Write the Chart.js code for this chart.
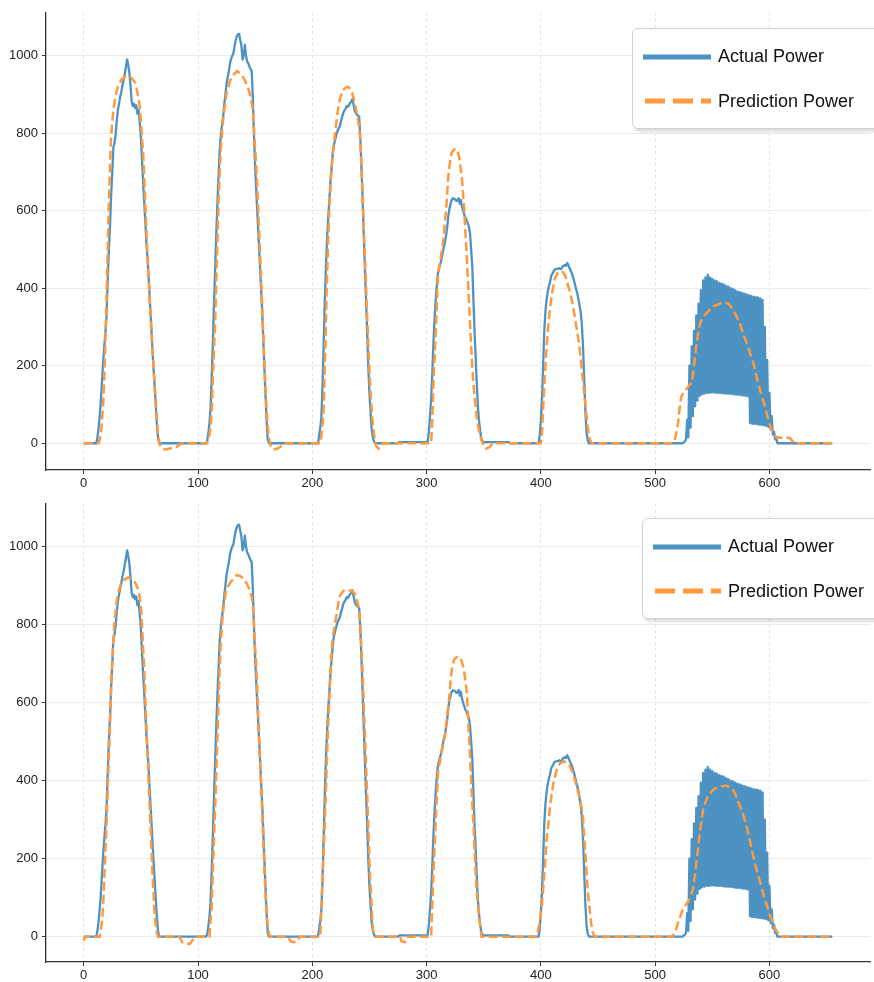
<!DOCTYPE html>
<html><head><meta charset="utf-8">
<script src="https://cdn.jsdelivr.net/npm/chart.js@4.4.1/dist/chart.umd.min.js"></script>
<style>
html,body{margin:0;padding:0;background:#fff;overflow:hidden;width:874px;height:982px;}
#wrap{position:relative;width:874px;height:982px;overflow:hidden;}
canvas{position:absolute;left:0;}
#c1{top:0;}
#c2{top:490px;}
.legend{position:absolute;width:262px;height:99px;border:1.5px solid #d2d2d2;border-radius:6px;background:#fff;box-shadow:2px 3px 3px rgba(0,0,0,0.13);font-family:"Liberation Sans",Arial,Helvetica,sans-serif;font-size:18px;color:#111;}
.legend svg{position:absolute;left:10px;}
.legend span{position:absolute;left:85px;line-height:22px;white-space:nowrap;}
</style>
</head><body>
<div id="wrap">
<canvas id="c1" width="874" height="490"></canvas>
<canvas id="c2" width="874" height="492"></canvas>
<div class="legend" style="left:632px;top:28px;">
  <svg width="70" height="10" style="top:23px"><line x1="0" y1="5" x2="68" y2="5" stroke="#4c92c3" stroke-width="5"/></svg>
  <span style="top:16px">Actual Power</span>
  <svg width="70" height="10" style="top:67px"><line x1="2" y1="5" x2="68" y2="5" stroke="#ff993e" stroke-width="5" stroke-dasharray="20 8"/></svg>
  <span style="top:61px">Prediction Power</span>
</div>
<div class="legend" style="left:642px;top:518px;">
  <svg width="70" height="10" style="top:23px"><line x1="0" y1="5" x2="68" y2="5" stroke="#4c92c3" stroke-width="5"/></svg>
  <span style="top:16px">Actual Power</span>
  <svg width="70" height="10" style="top:67px"><line x1="2" y1="5" x2="68" y2="5" stroke="#ff993e" stroke-width="5" stroke-dasharray="20 8"/></svg>
  <span style="top:61px">Prediction Power</span>
</div>
</div>
<script>
// ---- data: [time index, power] ----
const xTicks = [0, 100, 200, 300, 400, 500, 600];
const yTicks = [0, 200, 400, 600, 800, 1000];
const seriesNames = ["Actual Power", "Prediction Power"];

const actualPower = [
[0,0],[11,0],[12,15],[13,40],[14,70],[15,110],[16,160],[17,210],[18,250],[19,285],[20,330],[21,420],[22,500],[23,560],[24,640],[25,700],[26,765],[27,775],[28,800],[29,835],[30,861],[31,878],[32,895],[33,908],[34,925],[35,938],[36,955],[37,972],[38,990],[39,975],[40,955],[41,920],[42,880],[43,870],[44,876],[45,865],[46,872],[47,850],[48,860],[49,830],[50,790],[51,730],[52,672],[53,620],[54,565],[55,510],[56,470],[57,420],[58,360],[59,310],[60,250],[61,198],[62,150],[63,100],[64,50],[65,15],[66,0],
[107,0],[108,5],[109,25],[110,50],[111,90],[112,170],[113,260],[114,360],[115,450],[116,540],[117,620],[118,690],[119,757],[120,795],[121,820],[122,843],[123,875],[124,900],[125,928],[126,945],[127,960],[128,980],[129,992],[130,1000],[131,1006],[132,1025],[133,1040],[134,1050],[135,1055],[136,1056],[137,1040],[138,1025],[139,990],[140,1000],[141,1028],[142,1000],[143,985],[144,980],[145,972],[146,965],[147,960],[148,890],[149,790],[150,714],[151,650],[152,590],[153,530],[154,470],[155,410],[156,350],[157,280],[158,200],[159,130],[160,60],[161,10],[162,0],
[205,0],[206,20],[207,40],[208,70],[209,150],[210,260],[211,370],[212,460],[213,530],[214,585],[215,630],[216,680],[217,714],[218,750],[219,770],[220,783],[221,795],[222,805],[223,812],[224,817],[225,830],[226,840],[227,852],[228,858],[229,862],[230,870],[231,868],[232,872],[233,878],[234,880],[235,888],[236,875],[237,860],[238,852],[239,848],[240,845],[241,843],[242,790],[243,714],[244,630],[245,540],[246,456],[247,370],[248,290],[249,198],[250,130],[251,80],[252,35],[253,15],[254,5],[255,0],
[275,0],[276,3],[300,3],[301,5],[302,30],[303,70],[304,113],[305,180],[306,260],[307,320],[308,370],[309,410],[310,440],[311,452],[312,462],[313,474],[314,490],[315,505],[316,517],[317,535],[318,555],[319,585],[320,605],[321,618],[322,628],[323,632],[324,630],[325,630],[326,625],[327,626],[328,632],[329,618],[330,628],[331,610],[332,600],[333,590],[334,582],[335,575],[336,568],[337,560],[338,542],[339,500],[340,456],[341,370],[342,285],[343,220],[344,150],[345,90],[346,55],[347,30],[348,10],[349,5],[350,3],[372,3],[373,0],
[398,0],[399,20],[400,60],[401,113],[402,200],[403,290],[404,340],[405,370],[406,390],[407,405],[408,415],[409,431],[410,437],[411,442],[412,448],[413,449],[414,450],[415,450],[416,452],[417,450],[418,450],[419,456],[420,458],[421,460],[422,458],[423,465],[424,460],[425,452],[426,446],[427,440],[428,430],[429,420],[430,408],[431,396],[432,385],[433,370],[434,353],[435,335],[436,300],[437,242],[438,160],[439,80],[440,27],[441,8],[442,0],
[524,0],[526,5],[527,10],[528,60],[529,15],[530,200],[531,40],[532,250],[533,70],[534,290],[535,95],[536,330],[537,110],[538,360],[539,122],[540,395],[541,126],[542,420],[543,128],[544,428],[545,130],[546,435],[547,130],[548,428],[549,131],[550,424],[551,131],[552,420],[553,130],[554,418],[555,130],[556,414],[557,130],[558,412],[559,129],[560,410],[561,128],[562,406],[563,128],[564,404],[565,127],[566,400],[567,127],[568,398],[569,126],[570,395],[571,125],[572,392],[573,125],[574,390],[575,124],[576,388],[577,123],[578,386],[579,122],[580,384],[581,121],[582,382],[583,52],[584,380],[585,50],[586,378],[587,50],[588,377],[589,49],[590,376],[591,48],[592,374],[593,47],[594,370],[595,46],[596,300],[597,45],[598,215],[599,42],[600,130],[601,35],[602,70],[603,22],[604,30],[605,10],[606,12],[607,0],[655,0]
];

const predictionTop = [
[0,0],[13,0],[14,10],[15,25],[16,55],[17,100],[18,170],[19,270],[20,380],[21,500],[22,620],[23,720],[24,790],[25,830],[26,860],[27,880],[28,898],[30,920],[33,938],[36,945],[39,948],[42,942],[45,930],[47,905],[49,870],[50,830],[51,790],[52,750],[53,680],[54,610],[55,540],[56,475],[57,410],[58,355],[59,300],[60,250],[61,200],[62,150],[63,110],[64,60],[65,25],[66,5],[67,-8],[69,-15],[72,-16],[76,-13],[81,-10],[84,-3],[86,0],
[108,0],[110,20],[111,45],[112,80],[113,170],[114,240],[115,310],[116,420],[117,520],[118,620],[119,700],[120,760],[121,800],[122,835],[123,860],[125,904],[128,935],[131,950],[134,960],[137,955],[140,942],[142,930],[144,915],[146,895],[148,860],[149,810],[150,760],[151,714],[152,650],[153,580],[154,510],[155,440],[156,370],[157,285],[158,215],[159,150],[160,86],[161,45],[162,15],[163,0],[164,-10],[166,-16],[170,-13],[174,-5],[177,0],
[207,0],[208,20],[209,50],[210,90],[211,200],[212,320],[213,440],[214,530],[215,610],[216,670],[217,715],[218,750],[220,800],[222,850],[224,887],[226,905],[228,915],[231,920],[233,915],[235,903],[237,880],[239,850],[241,817],[242,780],[243,720],[244,650],[245,560],[246,480],[247,410],[248,330],[249,260],[250,190],[251,130],[252,85],[253,50],[254,25],[255,5],[256,-8],[258,-14],[260,-6],[262,0],
[304,0],[305,60],[306,155],[307,220],[308,285],[309,360],[310,432],[311,455],[312,470],[313,491],[314,510],[315,530],[316,570],[317,600],[318,640],[319,690],[320,714],[321,735],[322,750],[324,758],[326,760],[327,755],[328,745],[329,730],[330,705],[331,680],[332,640],[333,600],[334,542],[335,490],[336,430],[337,370],[338,310],[339,250],[340,198],[341,155],[342,120],[343,90],[344,65],[346,30],[348,8],[350,-5],[352,-14],[355,-10],[358,0],
[400,0],[401,27],[402,90],[403,150],[404,198],[405,245],[406,285],[407,320],[408,345],[409,370],[410,390],[411,405],[412,422],[413,430],[414,435],[415,440],[417,444],[419,442],[421,435],[422,425],[423,414],[425,395],[427,370],[429,338],[431,302],[433,265],[434,242],[435,215],[436,185],[437,156],[438,128],[439,100],[440,70],[441,40],[442,20],[443,8],[444,2],[446,0],
[515,0],[517,8],[518,20],[519,35],[520,52],[521,80],[522,105],[523,121],[525,132],[528,142],[530,150],[532,156],[533,175],[534,200],[535,225],[536,250],[537,272],[538,290],[539,305],[540,315],[542,326],[545,336],[548,345],[551,353],[555,358],[558,362],[562,362],[564,360],[566,354],[568,345],[570,335],[572,322],[574,310],[576,292],[578,275],[580,259],[582,242],[584,224],[586,207],[588,182],[590,156],[592,135],[594,115],[596,95],[598,73],[600,52],[602,35],[604,22],[606,16],[609,14],[612,14],[615,15],[618,13],[620,6],[622,0],[655,0]
];

const predictionBottom = [
[0,-10],[1,0],[14,0],[16,40],[17,78],[18,150],[19,220],[20,291],[21,380],[22,460],[23,548],[24,640],[25,710],[26,761],[27,810],[29,863],[31,890],[33,906],[36,916],[39,921],[42,917],[44,912],[46,902],[48,887],[49,870],[50,845],[51,800],[52,740],[53,680],[54,600],[55,530],[56,455],[57,384],[58,312],[59,245],[60,175],[61,118],[62,62],[63,30],[64,10],[65,0],[84,0],[86,-14],[89,-18],[93,-18],[95,-10],[97,0],
[110,0],[111,40],[112,78],[113,170],[114,250],[115,330],[116,420],[117,510],[118,600],[119,690],[120,760],[121,800],[122,835],[124,880],[126,897],[128,906],[131,918],[134,927],[137,924],[140,918],[143,903],[145,890],[147,870],[148,850],[149,800],[150,740],[151,690],[152,620],[153,550],[154,470],[155,400],[156,330],[157,255],[158,185],[159,110],[160,60],[161,30],[162,10],[163,0],[179,0],[181,-12],[184,-14],[187,-12],[189,0],
[207,0],[208,78],[209,150],[210,220],[211,291],[212,380],[213,470],[214,548],[215,620],[216,680],[217,735],[218,770],[220,804],[222,840],[224,872],[226,882],[228,888],[231,889],[233,887],[235,885],[237,880],[239,865],[241,838],[242,800],[243,740],[244,680],[245,600],[246,520],[247,440],[248,370],[249,280],[250,190],[251,130],[252,70],[253,20],[254,5],[256,0],[277,0],[278,-12],[281,-14],[283,0],
[304,0],[305,80],[306,163],[307,230],[308,291],[309,360],[310,419],[312,455],[313,470],[315,500],[316,513],[317,540],[318,565],[319,590],[320,620],[321,655],[322,684],[324,710],[326,716],[328,718],[330,712],[332,693],[333,678],[334,655],[335,633],[336,580],[337,520],[338,462],[339,400],[340,340],[341,291],[342,220],[343,160],[344,110],[346,50],[348,0],
[396,0],[397,10],[399,35],[401,85],[402,120],[404,200],[405,249],[407,300],[408,334],[410,375],[411,394],[413,418],[415,436],[417,445],[420,449],[423,447],[425,440],[428,419],[430,400],[432,377],[434,355],[436,325],[437,300],[438,249],[439,210],[440,165],[441,120],[442,90],[443,60],[444,35],[445,15],[447,0],
[515,0],[518,15],[520,35],[522,52],[524,69],[527,82],[529,90],[533,120],[535,160],[536,189],[538,235],[539,266],[541,305],[542,325],[544,345],[546,359],[549,370],[551,377],[554,382],[557,385],[562,387],[565,384],[567,381],[569,372],[571,359],[573,344],[576,322],[578,303],[580,283],[582,258],[584,231],[586,205],[588,180],[590,158],[593,129],[595,105],[598,78],[600,58],[603,35],[606,15],[608,8],[611,0],[655,0]
];

// ---- drawing ----
const FONT = '"Liberation Sans", Arial, Helvetica, sans-serif';
const toXY = arr => arr.map(p => ({x: p[0], y: p[1]}));

function makeChart(id, prediction, yMin, yMax, topPad) {
  const ctx = document.getElementById(id);
  return new Chart(ctx, {
    type: 'line',
    data: {
      datasets: [
        { label: seriesNames[0], data: toXY(actualPower), borderColor: '#4c92c3', borderWidth: 2.3,
          pointRadius: 0, tension: 0, fill: false, order: 2, borderJoinStyle: 'round' },
        { label: seriesNames[1], data: toXY(prediction), borderColor: '#ff993e', borderWidth: 2.5,
          borderDash: [9, 4], pointRadius: 0, tension: 0, fill: false, order: 1 }
      ]
    },
    options: {
      responsive: false,
      animation: false,
      devicePixelRatio: 1,
      layout: { autoPadding: false, padding: { top: topPad, right: 4, left: 0, bottom: 0 } },
      plugins: { legend: { display: false }, tooltip: { enabled: false } },
      scales: {
        x: {
          type: 'linear', min: -33, max: 688,
          afterBuildTicks: a => { a.ticks = xTicks.map(v => ({ value: v })); },
          afterFit: s => { s.height = 20; },
          ticks: { font: { family: FONT, size: 13 }, color: '#222', padding: 2, maxRotation: 0, autoSkip: false,
                   callback: v => String(v) },
          grid: { color: '#e2e2e2', lineWidth: 1, drawTicks: true, tickLength: 4, tickColor: '#333', tickWidth: 1 },
          border: { display: true, color: '#333', width: 1.3, dash: [3, 3] }
        },
        y: {
          type: 'linear', min: yMin, max: yMax,
          afterBuildTicks: a => { a.ticks = yTicks.map(v => ({ value: v })); },
          afterFit: s => { s.width = 46; },
          ticks: { font: { family: FONT, size: 13 }, color: '#222', padding: 4, callback: v => String(v) },
          grid: { color: '#ececec', lineWidth: 1, drawTicks: true, tickLength: 4, tickColor: '#333', tickWidth: 1 },
          border: { display: true, color: '#333', width: 1.3 }
        }
      }
    }
  });
}

makeChart('c1', predictionTop, -69, 1110, 13);
makeChart('c2', predictionBottom, -65, 1109, 14);
</script>
</body></html>
